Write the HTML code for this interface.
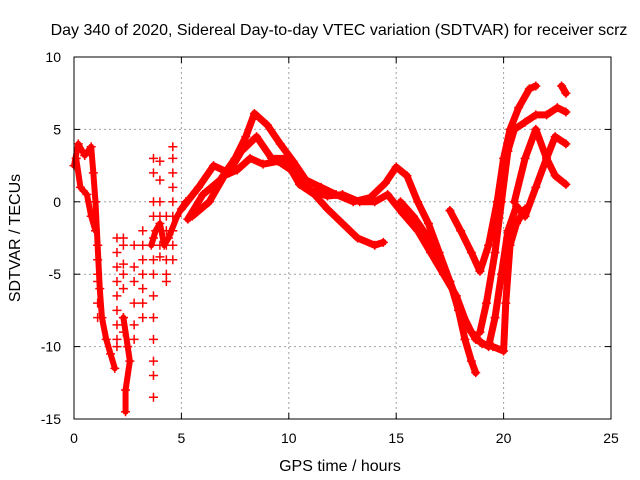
<!DOCTYPE html>
<html><head><meta charset="utf-8"><style>
body{margin:0;background:#fff}
svg{display:block;font-family:"Liberation Sans",sans-serif}
</style></head><body>
<svg id="chart" width="640" height="480" xmlns="http://www.w3.org/2000/svg">
<rect width="640" height="480" fill="#fff"/>
<text x="339" y="35" font-size="16" text-anchor="middle">Day 340 of 2020, Sidereal Day-to-day VTEC variation (SDTVAR) for receiver scrz</text>
<text x="340" y="471" font-size="16" text-anchor="middle">GPS time / hours</text>
<text x="0" y="0" font-size="16" text-anchor="middle" transform="translate(20,238) rotate(-90)">SDTVAR / TECUs</text>
<g id="grid"></g>
<g id="marks"></g>
<rect x="74" y="57" width="537" height="362" fill="none" stroke="#000" stroke-width="1"/>
<g id="ticks"></g>
</svg>
<script>
const xTicks=[0,5,10,15,20,25];
const yTicks=[10,5,0,-5,-10,-15];
const trackA=[[5.3,-1.2],[6,0.5],[6.8,1.5],[7.5,3],[8,4.5],[8.4,6.1],[9,5.3],[9.6,4],[10.2,2.8],[10.8,1.5],[11.5,1],[12.2,0.5],[13,0],[13.8,0.3],[14.5,1.3],[15,2.4],[15.5,1.8],[16,0],[16.5,-1.5],[17,-3.5],[17.5,-5.5],[18,-7.5],[18.5,-9],[19,-9.8],[19.5,-10],[20,-10.3],[20.1,-7],[20.3,-3],[20.6,-1.5],[21,-0.5]];
const trackB=[[5,-0.5],[5.8,1],[6.5,2.5],[7.2,2],[7.8,3.5],[8.5,4.5],[9.2,3],[9.8,3],[10.5,1.2],[11.2,0.5],[11.8,-0.5],[12.5,-1.5],[13.2,-2.5],[14,-3],[14.4,-2.8]];
const trackC=[[5.5,-1],[6.3,0],[7,1.8],[7.6,2.2],[8.2,3],[8.8,2.6],[9.5,2.8],[10.3,2],[11,0.8],[11.8,0.4],[12.5,0.5],[13.3,0],[14,0],[14.6,0.5],[15.3,-0.8],[16,-2],[16.6,-3.5],[17.2,-5],[17.8,-6.5],[18.3,-8.5],[18.7,-9.5],[19.3,-10],[19.6,-8],[19.9,-5],[20.2,-2],[20.6,-0.3],[21,-1],[21.5,1],[22,3],[22.4,4.5],[22.9,4]];
const trackD=[[15.2,0],[15.8,-1],[16.5,-2.5],[17,-4],[17.5,-5.5],[17.9,-7.5],[18.2,-9.5],[18.5,-11],[18.7,-11.8]];
const trackE=[[17.5,-0.6],[18,-2],[18.5,-3.5],[18.9,-4.8],[19.3,-3],[19.7,0],[20,3],[20.3,5],[20.7,6.5],[21.2,7.8],[21.5,8]];
const trackF=[[18.9,-9],[19.2,-7],[19.6,-3.5],[19.9,0],[20.2,3.5],[20.5,5],[21,5.5],[21.5,6],[22,6],[22.5,6.5],[22.9,6.2]];
const trackG=[[20.5,0],[21,3],[21.5,5],[22,3],[22.4,1.8],[22.9,1.2]];
const trackH=[[22.7,8],[22.9,7.5]];
const trackP1=[[0,2.5],[0.2,4],[0.5,3.2],[0.8,3.8],[0.9,2],[1.0,0],[1.1,-3],[1.2,-6],[1.3,-8],[1.5,-9.5],[1.7,-10.5],[1.9,-11.5]];
const trackP2=[[0.1,3],[0.3,1],[0.6,0.5],[0.8,-1],[1,-2]];
const trackP3=[[2.3,-8],[2.5,-10],[2.6,-11],[2.4,-13],[2.4,-14.5]];
const trackP4=[[3.6,-3],[3.8,-2],[4.0,-1.5],[4.2,-3],[4.4,-2.5],[4.8,-1],[5.2,0]];
const scatterHours=[1.1,1.1,1.1,1.1,1.1,1.1,2.0,2.0,2.0,2.0,2.0,2.0,2.0,2.0,2.0,2.3,2.3,2.3,2.3,2.3,2.3,2.3,2.8,2.8,2.8,2.8,2.8,2.8,3.2,3.2,3.2,3.2,3.2,3.2,3.2,3.7,3.7,3.7,3.7,3.7,3.7,3.7,3.7,3.7,3.7,3.7,3.7,3.7,4.0,4.0,4.0,4.0,4.0,4.0,4.0,4.3,4.3,4.3,4.3,4.3,4.3,4.6,4.6,4.6,4.6,4.6,4.6,4.6,4.6,4.6];
const scatterValues=[-3,-4,-5,-5.5,-7,-8,-2.5,-3.5,-4.5,-5.5,-6.5,-7.5,-8.5,-9.5,-10,-2.5,-3,-4.3,-5,-6,-8,-9,-3,-4.5,-5.5,-7,-8.5,-9.5,-2,-3,-4,-5,-6,-7,-8,3,2,0,-1,-2.5,-4,-5,-6.5,-8,-9.5,-11,-12,-13.5,2.8,1.5,0,-1,-2,-3,-3.8,-1,-2,-3,-4,-5,-5.5,3.8,3,2,1,0,-1,-2,-3,-4];

const NS="http://www.w3.org/2000/svg";
function xs(h){return 74+h*(537/25);}
function ys(v){return 57+(10-v)*(362/25);}
function mk(tag,attrs,parent){const e=document.createElementNS(NS,tag);for(const k in attrs)e.setAttribute(k,attrs[k]);parent.appendChild(e);return e;}
const grid=document.getElementById('grid'),ticks=document.getElementById('ticks'),marks=document.getElementById('marks');
xTicks.forEach(t=>{
  if(t>0&&t<25){const l=mk('line',{x1:xs(t),x2:xs(t),y1:57,y2:419,stroke:'#a0a0a0','stroke-dasharray':'2,3'},grid);
  
  }
  mk('line',{x1:xs(t),x2:xs(t),y1:419,y2:413,stroke:'#000'},ticks);
  mk('line',{x1:xs(t),x2:xs(t),y1:57,y2:63,stroke:'#000'},ticks);
  const tx=mk('text',{x:xs(t),y:443,'font-size':14,'text-anchor':'middle'},ticks);tx.textContent=t;
  
  
});
yTicks.forEach(t=>{
  if(t<10&&t>-15){const l=mk('line',{x1:74,x2:611,y1:ys(t),y2:ys(t),stroke:'#a0a0a0','stroke-dasharray':'2,3'},grid);
  
  }
  mk('line',{x1:74,x2:80,y1:ys(t),y2:ys(t),stroke:'#000'},ticks);
  mk('line',{x1:605,x2:611,y1:ys(t),y2:ys(t),stroke:'#000'},ticks);
  const tx=mk('text',{x:61,y:ys(t)+5,'font-size':14,'text-anchor':'end'},ticks);tx.textContent=t;
  
  
});
function plus(h,v,name){
  const x=xs(h),y=ys(v);
  const p=mk('path',{d:`M${x-4.5},${y}h9M${x},${y-4.5}v9`,stroke:'#f00','stroke-width':1.5,fill:'none'},marks);
  
  
}
const tracks=[trackA,trackB,trackC,trackD,trackE,trackF,trackG,trackH,trackP1,trackP2,trackP3,trackP4];
tracks.forEach((tr,i)=>{
  const pl=mk('polyline',{points:tr.map(p=>xs(p[0])+','+ys(p[1])).join(' '),fill:'none',stroke:'#f00','stroke-width':i>=8?6:7,'stroke-linejoin':'round','stroke-linecap':'round'},marks);
  
  
  tr.forEach(p=>plus(p[0],p[1],'sdtvar-point'));
});
scatterHours.forEach((h,i)=>plus(h,scatterValues[i],'sdtvar-scatter-point'));
</script>
</body></html>
